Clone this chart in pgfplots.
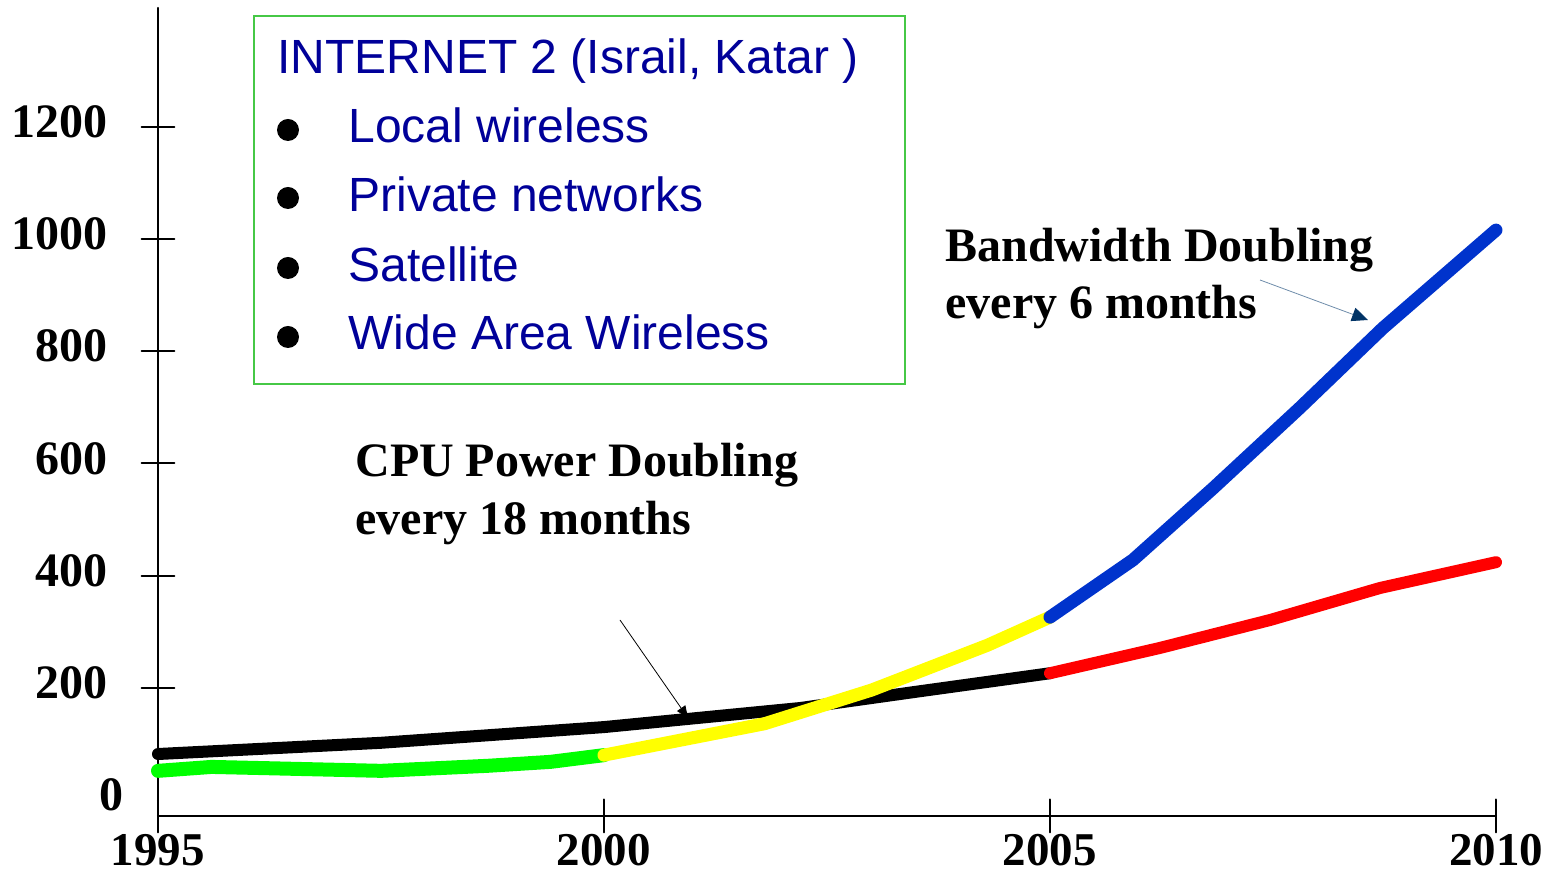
\documentclass[border=0pt]{standalone}
\usepackage{fontspec}
\setmainfont{Liberation Serif}
\newfontfamily\arial{Liberation Sans}
\usepackage{pgfplots}
\pgfplotsset{compat=1.18}
\usetikzlibrary{arrows.meta}
\definecolor{navytext}{RGB}{0,0,153}
\definecolor{boxgreen}{RGB}{70,200,70}
\definecolor{cgreen}{RGB}{0,255,0}
\definecolor{cyellow}{RGB}{255,255,0}
\definecolor{cblue}{RGB}{0,51,204}
\definecolor{cred}{RGB}{255,0,0}
\definecolor{arrownavy}{RGB}{0,51,102}
\definecolor{arrowline}{RGB}{110,140,170}
\begin{document}
\begin{tikzpicture}
\begin{axis}[
  at={(0,0)}, anchor=south west,
  scale only axis, width=669pt, height=404pt,
  xmin=1995, xmax=2010, ymin=-28.5, ymax=1412,
  axis x line=bottom, axis y line=left,
  axis line style={-, line width=1pt, black},
  xtick={1995,2000,2005,2010},
  ytick={200,400,600,800,1000,1200},
  extra y ticks={0},
  extra y tick style={major tick length=0pt},
  tick align=center, major tick length=16.5pt,
  tick style={line width=1pt, black},
  minor tick num=0,
  /pgf/number format/assume math mode=true,
  /pgf/number format/1000 sep={},
  ticklabel style={font=\bfseries\fontsize{24}{24}\selectfont, inner sep=0pt},
  yticklabel style={anchor=east, xshift=-17pt, yshift=2.5pt},
  xticklabel style={anchor=north, yshift=-0.5pt, font=\bfseries\fontsize{23.5}{24}\selectfont},
  clip=false,
  line cap=round, line join=round,
]
\addplot[black, line width=6pt] coordinates {
  (1995,82) (1997.5,102) (2000,130) (2002.2,164) (2003.5,193) (2005,226)};
\addplot[cgreen, line width=7pt] coordinates {
  (1995,52) (1995.6,59) (1997.5,52) (1998.7,61) (1999.4,68) (2000,80)};
\addplot[cyellow, line width=6.5pt] coordinates {
  (2000,80) (2001.8,136) (2003.0,196) (2004.3,276) (2005,326)};
\addplot[cred, line width=6pt] coordinates {
  (2005,226) (2006.23,271) (2007.47,321) (2008.7,378) (2010,424)};
\addplot[cblue, line width=6.5pt] coordinates {
  (2005,326) (2005.93,428) (2006.83,556) (2007.8,699) (2008.73,841) (2010,1016)};
\end{axis}
% text box
\draw[boxgreen, line width=0.8pt] (48pt,400pt) rectangle (373.5pt,216pt);
\node[anchor=base west, inner sep=0pt, text=navytext, font=\arial\fontsize{24}{24}\selectfont] at (59.5pt,371pt) {INTERNET 2 (Israil, Katar )};
\node[anchor=base west, inner sep=0pt, text=navytext, font=\arial\fontsize{24}{24}\selectfont] at (95pt,336.5pt) {Local wireless};
\node[anchor=base west, inner sep=0pt, text=navytext, font=\arial\fontsize{24}{24}\selectfont] at (95pt,302pt) {Private networks};
\node[anchor=base west, inner sep=0pt, text=navytext, font=\arial\fontsize{24}{24}\selectfont] at (95pt,267pt) {Satellite};
\node[anchor=base west, inner sep=0pt, text=navytext, font=\arial\fontsize{24}{24}\selectfont] at (95pt,233pt) {Wide Area Wireless};
\fill[black] (65pt,343pt) circle (5.5pt);
\fill[black] (65pt,309pt) circle (5.5pt);
\fill[black] (65pt,274pt) circle (5.5pt);
\fill[black] (65pt,239.5pt) circle (5.5pt);
% annotations
\node[anchor=base west, inner sep=0pt, font=\bfseries\fontsize{24}{24}\selectfont] at (393.5pt,277pt) {Bandwidth Doubling};
\node[anchor=base west, inner sep=0pt, font=\bfseries\fontsize{24}{24}\selectfont] at (393.5pt,248.5pt) {every 6 months};
\node[anchor=base west, inner sep=0pt, font=\bfseries\fontsize{24}{24}\selectfont] at (98.5pt,169.5pt) {CPU Power Doubling};
\node[anchor=base west, inner sep=0pt, font=\bfseries\fontsize{24}{24}\selectfont] at (98.5pt,140.5pt) {every 18 months};
\draw[arrowline, line width=0.4pt, -{Triangle[length=8pt,width=7pt,color=arrownavy]}] (551pt,268pt) -- (605pt,248pt);
\draw[black, line width=0.4pt, -{Triangle[length=6pt,width=5pt]}] (231pt,98pt) -- (265pt,49pt);
\pgfresetboundingbox
\path[use as bounding box] (-79pt,-28pt) rectangle (693pt,408pt);
\end{tikzpicture}
\end{document}
